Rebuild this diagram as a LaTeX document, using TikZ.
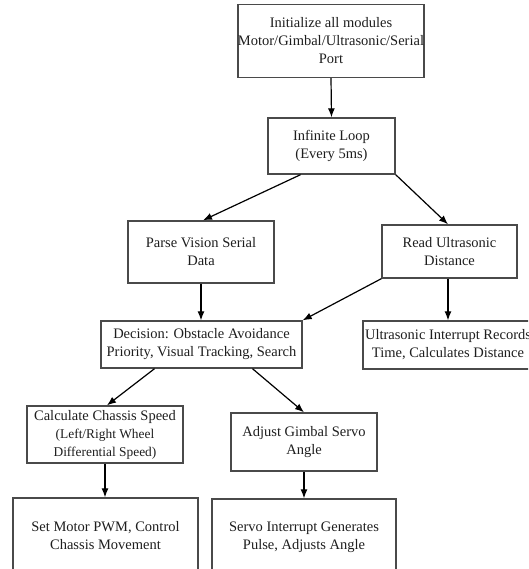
\documentclass[tikz,border=0pt]{standalone}
\usepackage{fontspec}
\setmainfont{Liberation Serif}
\usetikzlibrary{arrows.meta}
\definecolor{boxline}{HTML}{4A4A4A}
\definecolor{inktext}{HTML}{1E1E1E}
\tikzset{
  flowbox/.style={draw=boxline, line width=1.4pt, rectangle, inner sep=0pt,
    align=center, text=inktext, font=\fontsize{14.5}{18}\selectfont},
  flowarrow/.style={draw=black, line width=1.2pt,
    -{Latex[length=9pt,width=7pt]}},
}
\newcommand{\smalltxt}{\fontsize{13.4}{16.5}\selectfont}
\begin{document}
\begin{tikzpicture}[x=1pt,y=-1pt]
  \useasboundingbox (0,0) rectangle (528,569);
  \fill[white] (0,0) rectangle (528,569);
  \begin{scope}
  \clip (0,0) rectangle (528,569);
  % boxes
  \node[flowbox, minimum width=180pt, minimum height=73pt] (init) at (331,41)
    {Initialize all modules\\Motor/Gimbal/Ultrasonic/Serial\\Port};
  \node[flowbox, minimum width=127pt, minimum height=56pt] (loop) at (331.5,146)
    {Infinite Loop\\(Every 5ms)};
  \node[flowbox, minimum width=146pt, minimum height=62pt] (parse) at (201,252)
    {Parse Vision Serial\\Data};
  \node[flowbox, minimum width=135pt, minimum height=53pt] (sonar) at (449.5,251.5)
    {Read Ultrasonic\\Distance};
  \node[flowbox, minimum width=201pt, minimum height=47pt] (decide) at (201.5,344.5)
    {Decision: Obstacle Avoidance\\Priority, Visual Tracking, Search};
  \node[flowbox, minimum width=170pt, minimum height=48pt] (echo) at (448,345)
    {Ultrasonic Interrupt Records\\Time, Calculates Distance};
  \node[flowbox, minimum width=156pt, minimum height=57pt] (speed) at (105,434.5)
    {Calculate Chassis Speed\\{\smalltxt (Left/Right Wheel}\\{\smalltxt Differential Speed)}};
  \node[flowbox, minimum width=146pt, minimum height=58pt] (gimbal) at (304,442)
    {Adjust Gimbal Servo\\Angle};
  \node[flowbox, minimum width=185pt, minimum height=76pt] (pwm) at (105.5,536)
    {Set Motor PWM, Control\\Chassis Movement};
  \node[flowbox, minimum width=184pt, minimum height=76pt] (servo) at (304,537)
    {Servo Interrupt Generates\\Pulse, Adjusts Angle};
  % connectors
  \draw[flowarrow] (init.south) -- (loop.north);
  \draw[flowarrow] ([xshift=-31pt]loop.south) -- ([xshift=2pt]parse.north);
  \draw[flowarrow] (loop.south east) -- ([xshift=-1.5pt]sonar.north);
  \draw[flowarrow] (parse.south) -- (parse.south |- decide.north);
  \draw[flowarrow] ([xshift=-1.5pt]sonar.south) -- ([xshift=-1.5pt]sonar.south |- echo.north);
  \draw[flowarrow] (sonar.south west) -- (decide.north east);
  \draw[flowarrow] ([xshift=-47pt]decide.south) -- ([xshift=2pt]speed.north);
  \draw[flowarrow] ([xshift=51pt]decide.south) -- (gimbal.north);
  \draw[flowarrow] (speed.south) -- (speed.south |- pwm.north);
  \draw[flowarrow] (gimbal.south) -- (servo.north);
  \end{scope}
\end{tikzpicture}
\end{document}
